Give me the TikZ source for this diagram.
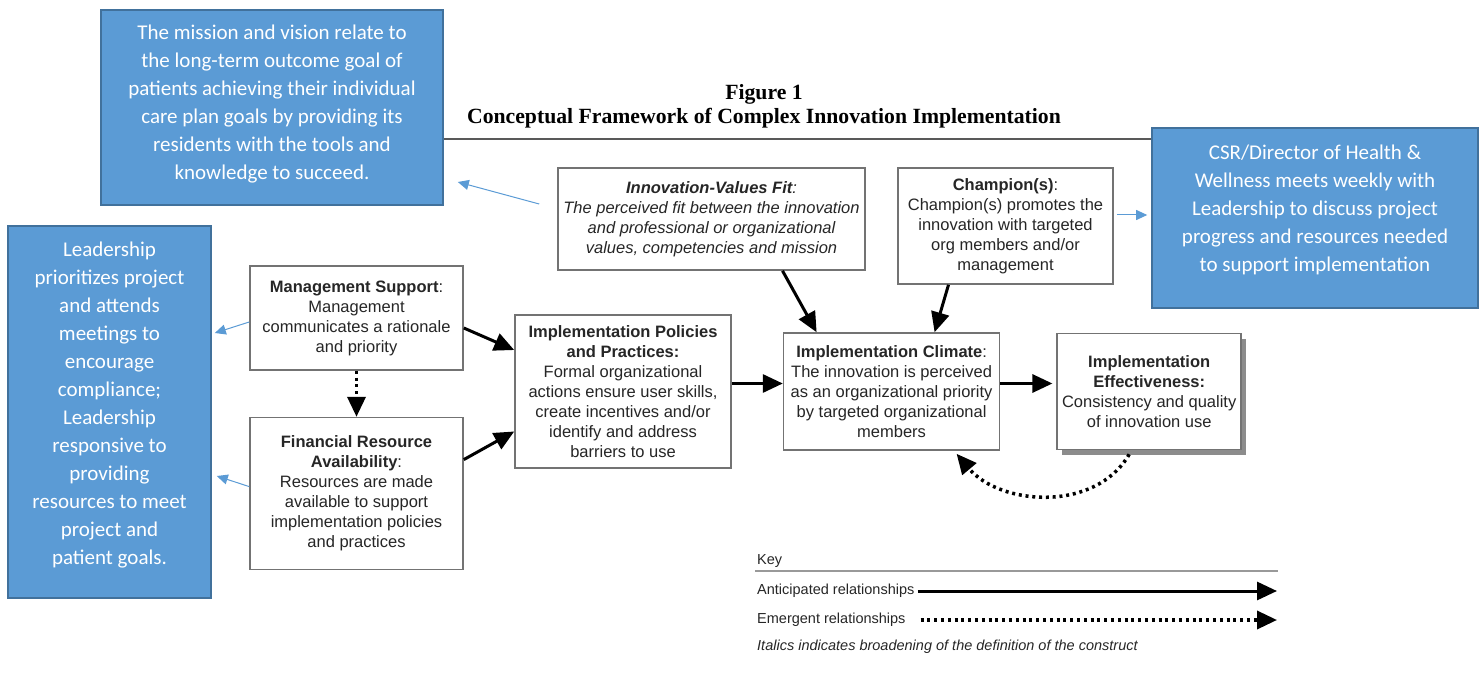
\documentclass[tikz,border=0pt]{standalone}
\usepackage{fontspec}
\setmainfont{Liberation Sans}
\newfontfamily\titlefont{Liberation Serif}
\newfontfamily\notefont{Carlito}
\usepackage{tikz}
\usetikzlibrary{positioning}
\usetikzlibrary{arrows.meta,shadows}
\definecolor{noteblue}{RGB}{91,155,213}
\definecolor{noteedge}{RGB}{65,113,156}

\begin{document}
\begin{tikzpicture}[x=1pt, y=-1pt,
    box/.style = {draw=black!55, line width=1.6pt, fill=white, align=center, inner sep=0pt, text=black!85, font=\fontsize{16.5}{20}\selectfont},
    note/.style = {draw=noteedge, line width=1.6pt, fill=noteblue, inner sep=0pt},
    notetext/.style = {text=white, align=center, font=\notefont\fontsize{21}{28}\selectfont},
    keytext/.style = {anchor=west, inner sep=0pt, text=black!85, font=\fontsize{14.5}{16}\selectfont},
    link/.style = {line width=3pt, -{Triangle[length=20pt,width=18pt]}},
    emerge/.style = {link, line width=3.5pt, dash pattern=on 3pt off 3.8pt},
    hint/.style = {draw=noteblue, line width=1pt, -{Triangle[length=11pt,width=10pt]}}]
    \useasboundingbox (0,0) rectangle (1483,679);
    \node[inner sep=0pt, align=center, font=\titlefont\bfseries\fontsize{21.7}{24}\selectfont](title) at (764,106)
        {Figure 1\\Conceptual Framework of Complex Innovation Implementation};
    \draw[black!65, line width=2.5pt] (443,139) -- (1152,139);
    % framework boxes
    \node[box, minimum width=307pt, minimum height=102pt, font=\itshape\fontsize{16.5}{20}\selectfont](ivf) at (711.5,219)
        {\textbf{Innovation-Values Fit}:\\The perceived fit between the innovation\\and professional or organizational\\values, competencies and mission};
    \node[box, minimum width=215pt, minimum height=116pt](champ) at (1005.5,226)
        {\textbf{Champion(s)}:\\Champion(s) promotes the\\innovation with targeted\\org members and/or\\management};
    \node[box, minimum width=213pt, minimum height=104pt](mgmt) at (356.5,318)
        {\textbf{Management Support}:\\Management\\communicates a rationale\\and priority};
    \node[box, minimum width=213pt, minimum height=152pt](fin)[below=46pt of mgmt]
        {\textbf{Financial Resource}\\\textbf{Availability}:\\Resources are made\\available to support\\implementation policies\\and practices};
    \node[box, minimum width=216pt, minimum height=153pt](pol) at (623,391.5)
        {\textbf{Implementation Policies}\\\textbf{and Practices:}\\Formal organizational\\actions ensure user skills,\\create incentives and/or\\identify and address\\barriers to use};
    \node[box, minimum width=216pt, minimum height=117pt](clim)[right=51pt of pol]
        {\textbf{Implementation Climate}:\\The innovation is perceived\\as an organizational priority\\by targeted organizational\\members};
    \node[box, minimum width=184pt, minimum height=116pt, drop shadow={shadow xshift=5pt, shadow yshift=-5pt, fill=black!45, opacity=1}](eff)[right=56pt of clim]
        {\textbf{Implementation}\\\textbf{Effectiveness:}\\Consistency and quality\\of innovation use};
    \draw[link] ([yshift=-10pt]mgmt.east) -- ([yshift=41.5pt]pol.west);
    \draw[link] ([yshift=34pt]fin.east) -- ([yshift=-40pt]pol.west);
    \draw[link] ([yshift=8pt]pol.east) -- ([yshift=8pt]clim.west);
    \draw[link] ([yshift=8pt]clim.east) -- ([xshift=-4pt,yshift=8pt]eff.west);
    \draw[link] ([xshift=71pt]ivf.south) -- ([xshift=-75pt]clim.north);
    \draw[link] ([xshift=-57pt]champ.south) -- ([xshift=43pt]clim.north);
    \draw[emerge] (mgmt) -- (fin);
    \draw[emerge] ([xshift=-20pt,yshift=-4pt]eff.south) to[out=-120, in=-50] ([xshift=65pt,yshift=-3pt]clim.south);
    % key
    \node[keytext](key) at (757,561) {Key};
    \draw[black!40, line width=1.6pt] (755,571) -- (1278,571);
    \node[keytext](ant) at (757,591) {Anticipated relationships};
    \node[keytext](emg) at (757,620) {Emergent relationships};
    \node[keytext, font=\itshape\fontsize{14.5}{16}\selectfont](ital) at (757,647) {Italics indicates broadening of the definition of the construct};
    \coordinate (kend) at (1277,0);
    \draw[link] ([xshift=3pt]ant.east) -- (ant.east -| kend);
    \draw[emerge] ([xshift=6pt]ant.east |- emg.east) -- (emg.east -| kend);
    % notes
    \node[note, minimum width=342pt, minimum height=195pt](mission) at (272,107.5) {};
    \node[notetext](missiontext) at ([yshift=3pt]mission)
        {The mission and vision relate to\\the long-term outcome goal of\\patients achieving their individual\\care plan goals by providing its\\residents with the tools and\\knowledge to succeed.};
    \node[note, minimum width=203pt, minimum height=372pt](lead) at (109.5,412) {};
    \node[notetext](leadtext) at ([yshift=7pt]lead)
        {Leadership\\prioritizes project\\and attends\\meetings to\\encourage\\compliance;\\Leadership\\responsive to\\providing\\resources to meet\\project and\\patient goals.};
    \node[note, minimum width=326pt, minimum height=180pt](csr) at (1315,218) {};
    \node[notetext](csrtext) at ([yshift=8pt]csr)
        {CSR/Director of Health \&\\Wellness meets weekly with\\Leadership to discuss project\\progress and resources needed\\to support implementation};
    \draw[hint] ([yshift=-4pt]mgmt.west) -- ([xshift=3pt,yshift=79pt]lead.east);
    \draw[hint] ([yshift=7pt]fin.west) -- ([xshift=5pt,yshift=-64pt]lead.east);
    \draw[hint] ([xshift=-18pt,yshift=15pt]ivf.west) -- ([xshift=14pt,yshift=-74.5pt]mission.east);
    \draw[hint] ([xshift=3pt,yshift=11pt]champ.east) -- ([xshift=-4pt,yshift=3pt]csr.west);
\end{tikzpicture}
\end{document}
